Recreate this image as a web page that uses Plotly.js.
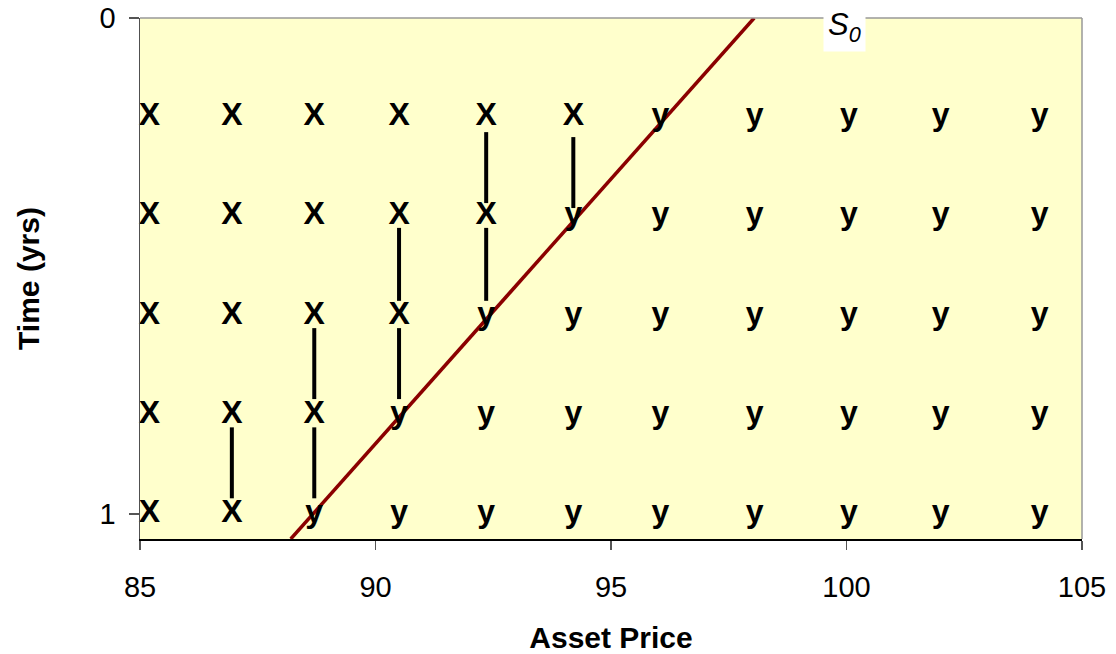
<!DOCTYPE html>
<html>
<head>
<meta charset="utf-8">
<script src="https://cdn.plot.ly/plotly-3.0.1.min.js"></script>
<style>html,body{margin:0;padding:0;background:#fff;}#chart{width:1116px;height:654px;}</style>
</head>
<body>
<div id="chart"></div>
<script>
// Grid of asset prices (columns) and times (rows)
var prices = [85.2, 86.95, 88.7, 90.5, 92.35, 94.2, 96.05, 98.05, 100.05, 102.0, 104.1];
var times = [0.2, 0.4, 0.6, 0.8, 1.0];
// Label of each cell per row (X = exercise, y = hold)
var rowLabels = [
  "XXXXXXyyyyy",
  "XXXXXyyyyyy",
  "XXXXyyyyyyy",
  "XXXyyyyyyyy",
  "XXyyyyyyyyy"
];
// Exercise boundary line
var boundaryX = [88.2, 98.04];
var boundaryY = [1.05, 0];
// Vertical connector segments
var segX  = [86.95, 88.7, 88.7, 90.5, 90.5, 92.35, 92.35, 94.2];
var segY0 = [0.825, 0.825, 0.625, 0.625, 0.423, 0.423, 0.23, 0.24];
var segY1 = [0.968, 0.968, 0.768, 0.768, 0.57, 0.57, 0.373, 0.383];
// Axis ticks
var xTicks = [85, 90, 95, 100, 105];
var yTicks = [0, 1];
var s0Label = "<i>S<sub>0</sub></i>";
var s0X = 99.96;

var tx = [], ty = [], tt = [];
for (var r = 0; r < times.length; r++) {
  for (var c = 0; c < prices.length; c++) {
    tx.push(prices[c]); ty.push(times[r]); tt.push(rowLabels[r].charAt(c));
  }
}
var sx = [], sy = [];
for (var i = 0; i < segX.length; i++) {
  sx.push(segX[i], segX[i], null);
  sy.push(segY0[i], segY1[i], null);
}

var traces = [
  {x: sx, y: sy, mode: 'lines', line: {color: '#000000', width: 4}, hoverinfo: 'skip', showlegend: false},
  {x: boundaryX, y: boundaryY, mode: 'lines', line: {color: '#8B0000', width: 3.5}, hoverinfo: 'skip', showlegend: false},
  {x: tx, y: ty, text: tt, mode: 'text', textposition: 'middle center',
   textfont: {family: 'Liberation Sans, Arial, sans-serif', size: 32, color: '#000000', weight: 'bold'},
   hoverinfo: 'skip', showlegend: false, cliponaxis: false}
];

var layout = {
  width: 1116, height: 654,
  margin: {l: 140, r: 34, t: 18, b: 115},
  paper_bgcolor: '#ffffff',
  plot_bgcolor: '#FFFFCC',
  font: {family: 'Liberation Sans, Arial, sans-serif', size: 30, color: '#000000'},
  xaxis: {
    range: [85, 105], tickvals: xTicks, ticktext: xTicks.map(String),
    showgrid: false, zeroline: false,
    showline: true, linecolor: '#000000', linewidth: 1.5,
    ticks: 'outside', ticklen: 9, tickcolor: '#555555', tickwidth: 1.5,
    ticklabelstandoff: 13,
    tickfont: {size: 29},
    title: {text: '<b>Asset Price</b>', font: {size: 30}, standoff: 26},
    automargin: false
  },
  yaxis: {
    range: [1.05, 0], tickvals: yTicks, ticktext: yTicks.map(String),
    showgrid: false, zeroline: false,
    showline: true, linecolor: '#505050', linewidth: 1.5,
    ticks: 'outside', ticklen: 10, tickcolor: '#555555', tickwidth: 1.5,
    ticklabelstandoff: 7,
    tickfont: {size: 29},
    title: {text: '<b>Time (yrs)</b>', font: {size: 30}, standoff: 51},
    automargin: false
  },
  shapes: [
    {type: 'line', xref: 'paper', yref: 'paper', x0: 0, x1: 1, y0: 1, y1: 1, line: {color: '#999999', width: 1.5}},
    {type: 'line', xref: 'paper', yref: 'paper', x0: 1, x1: 1, y0: 0, y1: 1, line: {color: '#999999', width: 1.5}}
  ],
  annotations: [
    {x: s0X, y: 0.982, xref: 'x', yref: 'paper', text: s0Label, showarrow: false,
     bgcolor: '#ffffff', font: {size: 31, color: '#000000'}, xanchor: 'center', yanchor: 'middle', borderpad: 4}
  ]
};

Plotly.newPlot('chart', traces, layout, {displayModeBar: false, staticPlot: true});
</script>
</body>
</html>
